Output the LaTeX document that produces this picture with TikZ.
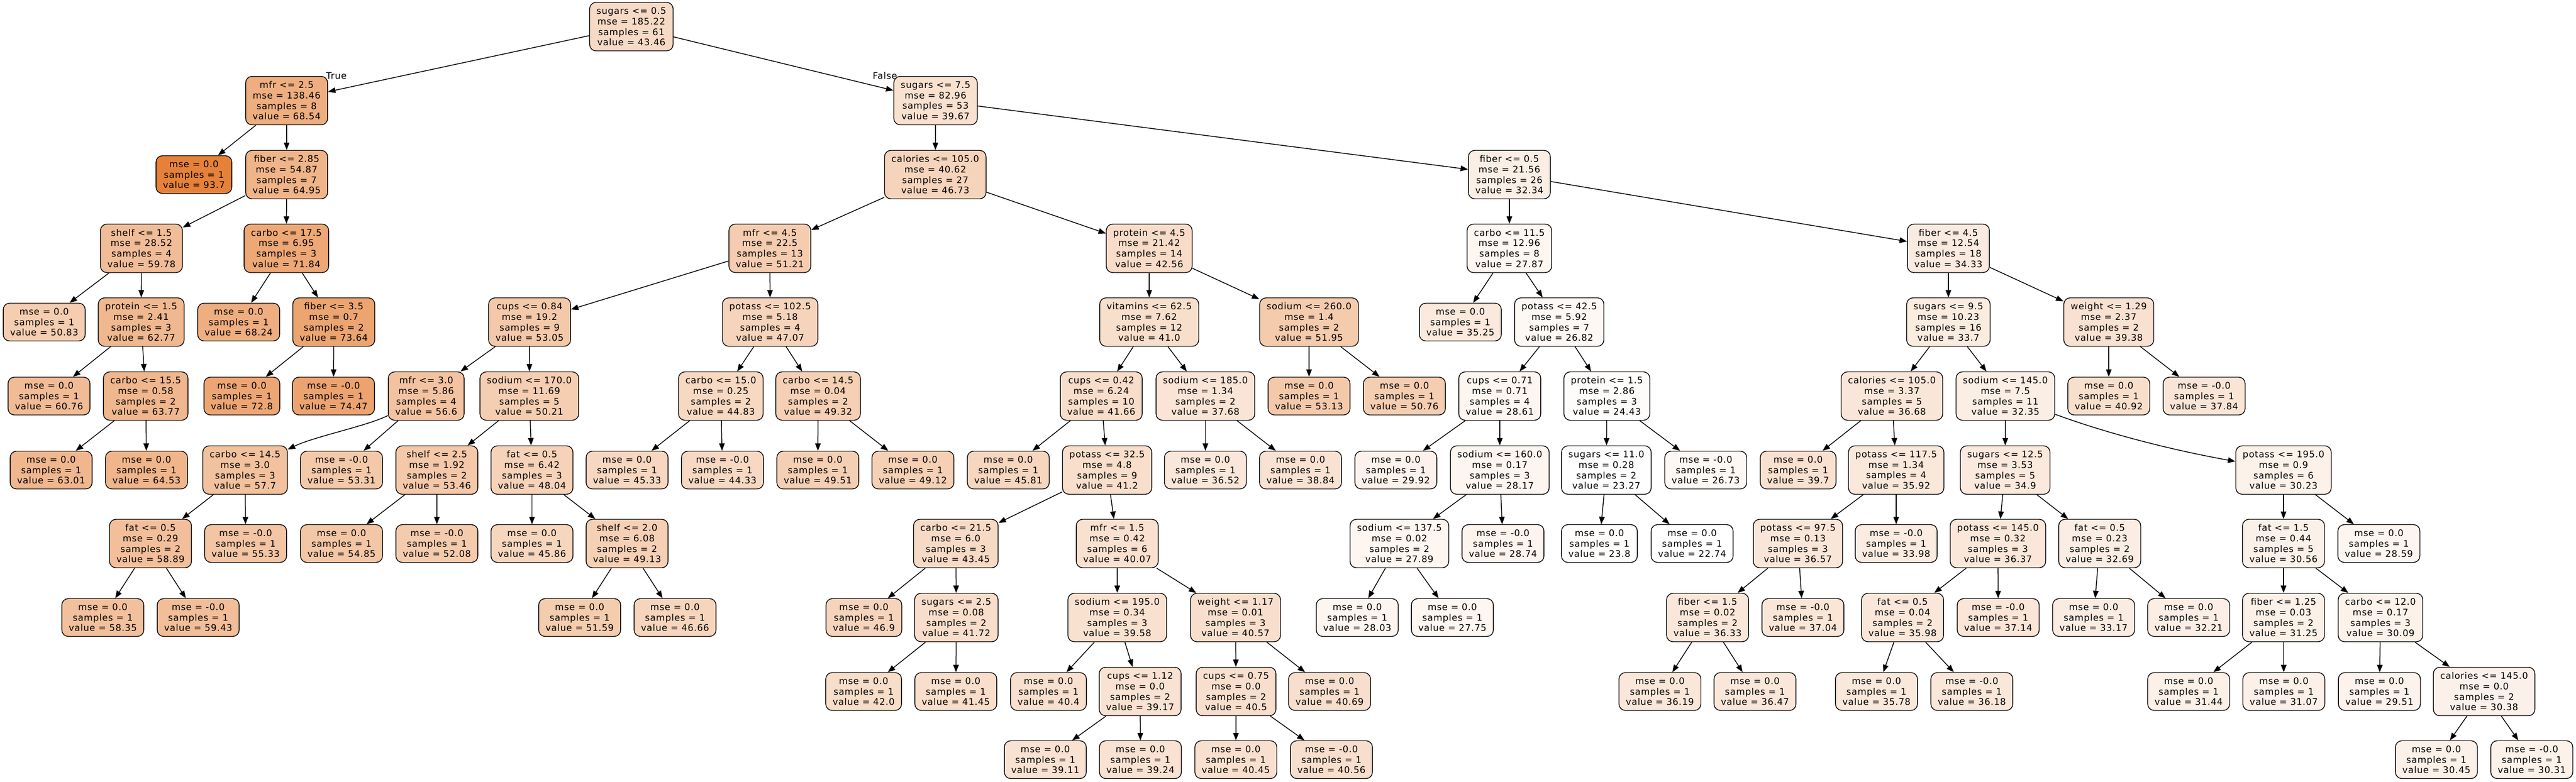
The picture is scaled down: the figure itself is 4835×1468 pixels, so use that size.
\documentclass[tikz,border=0pt]{standalone}
\usepackage{fontspec}
\setmainfont{DejaVu Sans}[LetterSpace=4.5]
\usetikzlibrary{arrows.meta}
\definecolor{tc}{RGB}{229,129,57}
\begin{document}
\begin{tikzpicture}[x=1pt,y=-1pt,
  box/.style={rectangle, draw=black, line width=1.4pt, rounded corners=12pt, align=center, inner xsep=13pt, inner ysep=2pt, font=\fontsize{17}{19.7}\selectfont},
  split/.style={box, minimum height=91pt},
  leaf/.style={box, minimum height=71pt},
  val/.style={/utils/exec={\pgfmathsetmacro\pct{(#1-22.74)*100/70.96}}, fill/.expanded={tc!\pct!white}},
  edge/.style={line width=1.5pt, -{Triangle[length=14pt,width=10.5pt]}},
  lbl/.style={font=\fontsize{17}{19.7}\selectfont, inner sep=0pt, anchor=base west}]
\useasboundingbox (0,0) rectangle (4835,1468);
% level 0
\node[split,val=43.46] (n0) at (1185,50) {sugars <= 0.5\\mse = 185.22\\samples = 61\\value = 43.46};
% level 1
\node[split,val=68.54] (n1) at (538,189) {mfr <= 2.5\\mse = 138.46\\samples = 8\\value = 68.54};
\node[split,val=39.67] (n16) at (1756,189) {sugars <= 7.5\\mse = 82.96\\samples = 53\\value = 39.67};
% level 2
\node[leaf,val=93.7] (n2) at (364,328) {mse = 0.0\\samples = 1\\value = 93.7};
\node[split,val=64.95] (n3) at (538,328) {fiber <= 2.85\\mse = 54.87\\samples = 7\\value = 64.95};
\node[split,val=46.73] (n17) at (1755.5,328) {calories <= 105.0\\mse = 40.62\\samples = 27\\value = 46.73};
\node[split,val=32.34] (n70) at (2833,328) {fiber <= 0.5\\mse = 21.56\\samples = 26\\value = 32.34};
% level 3
\node[split,val=59.78] (n4) at (265.5,466.5) {shelf <= 1.5\\mse = 28.52\\samples = 4\\value = 59.78};
\node[split,val=71.84] (n11) at (537.5,466.5) {carbo <= 17.5\\mse = 6.95\\samples = 3\\value = 71.84};
\node[split,val=51.21] (n18) at (1445,466.5) {mfr <= 4.5\\mse = 22.5\\samples = 13\\value = 51.21};
\node[split,val=42.56] (n43) at (2157,466.5) {protein <= 4.5\\mse = 21.42\\samples = 14\\value = 42.56};
\node[split,val=27.87] (n71) at (2833,466.5) {carbo <= 11.5\\mse = 12.96\\samples = 8\\value = 27.87};
\node[split,val=34.33] (n86) at (3657,466.5) {fiber <= 4.5\\mse = 12.54\\samples = 18\\value = 34.33};
% level 4
\node[leaf,val=50.83] (n5) at (83,605) {mse = 0.0\\samples = 1\\value = 50.83};
\node[split,val=62.77] (n6) at (265,605) {protein <= 1.5\\mse = 2.41\\samples = 3\\value = 62.77};
\node[leaf,val=68.24] (n12) at (448,605) {mse = 0.0\\samples = 1\\value = 68.24};
\node[split,val=73.64] (n13) at (626.5,605) {fiber <= 3.5\\mse = 0.7\\samples = 2\\value = 73.64};
\node[split,val=53.05] (n19) at (994,605) {cups <= 0.84\\mse = 19.2\\samples = 9\\value = 53.05};
\node[split,val=47.07] (n36) at (1445.5,605) {potass <= 102.5\\mse = 5.18\\samples = 4\\value = 47.07};
\node[split,val=41.0] (n44) at (2157,605) {vitamins <= 62.5\\mse = 7.62\\samples = 12\\value = 41.0};
\node[split,val=51.95] (n67) at (2457,605) {sodium <= 260.0\\mse = 1.4\\samples = 2\\value = 51.95};
\node[leaf,val=35.25] (n72) at (2741,605) {mse = 0.0\\samples = 1\\value = 35.25};
\node[split,val=26.82] (n73) at (2926.6,605) {potass <= 42.5\\mse = 5.92\\samples = 7\\value = 26.82};
\node[split,val=33.7] (n87) at (3657,605) {sugars <= 9.5\\mse = 10.23\\samples = 16\\value = 33.7};
\node[split,val=39.38] (n118) at (3958,605) {weight <= 1.29\\mse = 2.37\\samples = 2\\value = 39.38};
% level 5
\node[leaf,val=60.76] (n7) at (92,744) {mse = 0.0\\samples = 1\\value = 60.76};
\node[split,val=63.77] (n8) at (273.5,744) {carbo <= 15.5\\mse = 0.58\\samples = 2\\value = 63.77};
\node[leaf,val=72.8] (n14) at (454,744) {mse = 0.0\\samples = 1\\value = 72.8};
\node[leaf,val=74.47] (n15) at (626,744) {mse = -0.0\\samples = 1\\value = 74.47};
\node[split,val=56.6] (n20) at (800,744) {mfr <= 3.0\\mse = 5.86\\samples = 4\\value = 56.6};
\node[split,val=50.21] (n27) at (993.5,744) {sodium <= 170.0\\mse = 11.69\\samples = 5\\value = 50.21};
\node[split,val=44.83] (n37) at (1353,744) {carbo <= 15.0\\mse = 0.25\\samples = 2\\value = 44.83};
\node[split,val=49.32] (n40) at (1535.5,744) {carbo <= 14.5\\mse = 0.04\\samples = 2\\value = 49.32};
\node[split,val=41.66] (n45) at (2067,744) {cups <= 0.42\\mse = 6.24\\samples = 10\\value = 41.66};
\node[split,val=37.68] (n64) at (2262.5,744) {sodium <= 185.0\\mse = 1.34\\samples = 2\\value = 37.68};
\node[leaf,val=53.13] (n68) at (2457,744) {mse = 0.0\\samples = 1\\value = 53.13};
\node[leaf,val=50.76] (n69) at (2636,744) {mse = 0.0\\samples = 1\\value = 50.76};
\node[split,val=28.61] (n74) at (2815,744) {cups <= 0.71\\mse = 0.71\\samples = 4\\value = 28.61};
\node[split,val=24.43] (n81) at (3016,744) {protein <= 1.5\\mse = 2.86\\samples = 3\\value = 24.43};
\node[split,val=36.68] (n88) at (3551,744) {calories <= 105.0\\mse = 3.37\\samples = 5\\value = 36.68};
\node[split,val=32.35] (n97) at (3764,744) {sodium <= 145.0\\mse = 7.5\\samples = 11\\value = 32.35};
\node[leaf,val=40.92] (n119) at (3958,744) {mse = 0.0\\samples = 1\\value = 40.92};
\node[leaf,val=37.84] (n120) at (4137,744) {mse = -0.0\\samples = 1\\value = 37.84};
% level 6
\node[leaf,val=63.01] (n9) at (96,883) {mse = 0.0\\samples = 1\\value = 63.01};
\node[leaf,val=64.53] (n10) at (275,883) {mse = 0.0\\samples = 1\\value = 64.53};
\node[split,val=57.7] (n21) at (460,883) {carbo <= 14.5\\mse = 3.0\\samples = 3\\value = 57.7};
\node[leaf,val=53.31] (n26) at (641,883) {mse = -0.0\\samples = 1\\value = 53.31};
\node[split,val=53.46] (n28) at (820,883) {shelf <= 2.5\\mse = 1.92\\samples = 2\\value = 53.46};
\node[split,val=48.04] (n31) at (998.5,883) {fat <= 0.5\\mse = 6.42\\samples = 3\\value = 48.04};
\node[leaf,val=45.33] (n38) at (1177,883) {mse = 0.0\\samples = 1\\value = 45.33};
\node[leaf,val=44.33] (n39) at (1356,883) {mse = -0.0\\samples = 1\\value = 44.33};
\node[leaf,val=49.51] (n41) at (1535,883) {mse = 0.0\\samples = 1\\value = 49.51};
\node[leaf,val=49.12] (n42) at (1713.5,883) {mse = 0.0\\samples = 1\\value = 49.12};
\node[leaf,val=45.81] (n46) at (1892.5,883) {mse = 0.0\\samples = 1\\value = 45.81};
\node[split,val=41.2] (n47) at (2078,883) {potass <= 32.5\\mse = 4.8\\samples = 9\\value = 41.2};
\node[leaf,val=36.52] (n65) at (2262.5,883) {mse = 0.0\\samples = 1\\value = 36.52};
\node[leaf,val=38.84] (n66) at (2441,883) {mse = 0.0\\samples = 1\\value = 38.84};
\node[leaf,val=29.92] (n75) at (2620,883) {mse = 0.0\\samples = 1\\value = 29.92};
\node[split,val=28.17] (n76) at (2815,883) {sodium <= 160.0\\mse = 0.17\\samples = 3\\value = 28.17};
\node[split,val=23.27] (n82) at (3015,883) {sugars <= 11.0\\mse = 0.28\\samples = 2\\value = 23.27};
\node[leaf,val=26.73] (n85) at (3201.6,883) {mse = -0.0\\samples = 1\\value = 26.73};
\node[leaf,val=39.7] (n89) at (3375,883) {mse = 0.0\\samples = 1\\value = 39.7};
\node[split,val=35.92] (n90) at (3559,883) {potass <= 117.5\\mse = 1.34\\samples = 4\\value = 35.92};
\node[split,val=34.9] (n98) at (3763.6,883) {sugars <= 12.5\\mse = 3.53\\samples = 5\\value = 34.9};
\node[split,val=30.23] (n107) at (4286,883) {potass <= 195.0\\mse = 0.9\\samples = 6\\value = 30.23};
% level 7
\node[split,val=58.89] (n22) at (282.5,1021) {fat <= 0.5\\mse = 0.29\\samples = 2\\value = 58.89};
\node[leaf,val=55.33] (n25) at (461,1021) {mse = -0.0\\samples = 1\\value = 55.33};
\node[leaf,val=54.85] (n29) at (641,1021) {mse = 0.0\\samples = 1\\value = 54.85};
\node[leaf,val=52.08] (n30) at (820,1021) {mse = -0.0\\samples = 1\\value = 52.08};
\node[leaf,val=45.86] (n32) at (998.5,1021) {mse = 0.0\\samples = 1\\value = 45.86};
\node[split,val=49.13] (n33) at (1177,1021) {shelf <= 2.0\\mse = 6.08\\samples = 2\\value = 49.13};
\node[split,val=43.45] (n48) at (1794,1021) {carbo <= 21.5\\mse = 6.0\\samples = 3\\value = 43.45};
\node[split,val=40.07] (n53) at (2097,1021) {mfr <= 1.5\\mse = 0.42\\samples = 6\\value = 40.07};
\node[split,val=27.89] (n77) at (2626.6,1021) {sodium <= 137.5\\mse = 0.02\\samples = 2\\value = 27.89};
\node[leaf,val=28.74] (n80) at (2821,1021) {mse = -0.0\\samples = 1\\value = 28.74};
\node[leaf,val=23.8] (n83) at (3002,1021) {mse = 0.0\\samples = 1\\value = 23.8};
\node[leaf,val=22.74] (n84) at (3176,1021) {mse = 0.0\\samples = 1\\value = 22.74};
\node[split,val=36.57] (n91) at (3374.6,1021) {potass <= 97.5\\mse = 0.13\\samples = 3\\value = 36.57};
\node[leaf,val=33.98] (n96) at (3559,1021) {mse = -0.0\\samples = 1\\value = 33.98};
\node[split,val=36.37] (n99) at (3750,1021) {potass <= 145.0\\mse = 0.32\\samples = 3\\value = 36.37};
\node[split,val=32.69] (n104) at (3941,1021) {fat <= 0.5\\mse = 0.23\\samples = 2\\value = 32.69};
\node[split,val=30.56] (n108) at (4286,1021) {fat <= 1.5\\mse = 0.44\\samples = 5\\value = 30.56};
\node[leaf,val=28.59] (n117) at (4465,1021) {mse = 0.0\\samples = 1\\value = 28.59};
% level 8
\node[leaf,val=58.35] (n23) at (193,1160) {mse = 0.0\\samples = 1\\value = 58.35};
\node[leaf,val=59.43] (n24) at (372,1160) {mse = -0.0\\samples = 1\\value = 59.43};
\node[leaf,val=51.59] (n34) at (1088,1160) {mse = 0.0\\samples = 1\\value = 51.59};
\node[leaf,val=46.66] (n35) at (1267,1160) {mse = 0.0\\samples = 1\\value = 46.66};
\node[leaf,val=46.9] (n49) at (1621.5,1160) {mse = 0.0\\samples = 1\\value = 46.9};
\node[split,val=41.72] (n50) at (1795,1160) {sugars <= 2.5\\mse = 0.08\\samples = 2\\value = 41.72};
\node[split,val=39.58] (n54) at (2097,1160) {sodium <= 195.0\\mse = 0.34\\samples = 3\\value = 39.58};
\node[split,val=40.57] (n59) at (2319,1160) {weight <= 1.17\\mse = 0.01\\samples = 3\\value = 40.57};
\node[leaf,val=28.03] (n78) at (2547.5,1160) {mse = 0.0\\samples = 1\\value = 28.03};
\node[leaf,val=27.75] (n79) at (2726,1160) {mse = 0.0\\samples = 1\\value = 27.75};
\node[split,val=36.33] (n92) at (3205,1160) {fiber <= 1.5\\mse = 0.02\\samples = 2\\value = 36.33};
\node[leaf,val=37.04] (n95) at (3384,1160) {mse = -0.0\\samples = 1\\value = 37.04};
\node[split,val=35.98] (n100) at (3571,1160) {fat <= 0.5\\mse = 0.04\\samples = 2\\value = 35.98};
\node[leaf,val=37.14] (n103) at (3750.5,1160) {mse = -0.0\\samples = 1\\value = 37.14};
\node[leaf,val=33.17] (n105) at (3929.6,1160) {mse = 0.0\\samples = 1\\value = 33.17};
\node[leaf,val=32.21] (n106) at (4108,1160) {mse = 0.0\\samples = 1\\value = 32.21};
\node[split,val=31.25] (n109) at (4286,1160) {fiber <= 1.25\\mse = 0.03\\samples = 2\\value = 31.25};
\node[split,val=30.09] (n112) at (4468,1160) {carbo <= 12.0\\mse = 0.17\\samples = 3\\value = 30.09};
% level 9
\node[leaf,val=42.0] (n51) at (1621,1299) {mse = 0.0\\samples = 1\\value = 42.0};
\node[leaf,val=41.45] (n52) at (1794,1299) {mse = 0.0\\samples = 1\\value = 41.45};
\node[leaf,val=40.4] (n55) at (1968,1299) {mse = 0.0\\samples = 1\\value = 40.4};
\node[split,val=39.17] (n56) at (2140,1299) {cups <= 1.12\\mse = 0.0\\samples = 2\\value = 39.17};
\node[split,val=40.5] (n60) at (2320,1299) {cups <= 0.75\\mse = 0.0\\samples = 2\\value = 40.5};
\node[leaf,val=40.69] (n63) at (2495.5,1299) {mse = 0.0\\samples = 1\\value = 40.69};
\node[leaf,val=36.19] (n93) at (3115.6,1299) {mse = 0.0\\samples = 1\\value = 36.19};
\node[leaf,val=36.47] (n94) at (3294,1299) {mse = 0.0\\samples = 1\\value = 36.47};
\node[leaf,val=35.78] (n101) at (3522,1299) {mse = 0.0\\samples = 1\\value = 35.78};
\node[leaf,val=36.18] (n102) at (3701,1299) {mse = -0.0\\samples = 1\\value = 36.18};
\node[leaf,val=31.44] (n110) at (4108,1299) {mse = 0.0\\samples = 1\\value = 31.44};
\node[leaf,val=31.07] (n111) at (4286.6,1299) {mse = 0.0\\samples = 1\\value = 31.07};
\node[leaf,val=29.51] (n113) at (4466,1299) {mse = 0.0\\samples = 1\\value = 29.51};
\node[split,val=30.38] (n114) at (4662.5,1299) {calories <= 145.0\\mse = 0.0\\samples = 2\\value = 30.38};
% level 10
\node[leaf,val=39.11] (n57) at (1962,1427) {mse = 0.0\\samples = 1\\value = 39.11};
\node[leaf,val=39.24] (n58) at (2140.5,1427) {mse = 0.0\\samples = 1\\value = 39.24};
\node[leaf,val=40.45] (n61) at (2319.6,1427) {mse = 0.0\\samples = 1\\value = 40.45};
\node[leaf,val=40.56] (n62) at (2499,1427) {mse = -0.0\\samples = 1\\value = 40.56};
\node[leaf,val=30.45] (n115) at (4573,1427) {mse = 0.0\\samples = 1\\value = 30.45};
\node[leaf,val=30.31] (n116) at (4752,1427) {mse = -0.0\\samples = 1\\value = 30.31};
% edge labels
\node[lbl] (tlab) at (612,148) {True};
\node[lbl] (flab) at (1638,148) {False};
% edges
\foreach \a/\b in {n0/n1, n0/n16, n1/n2, n1/n3, n3/n4, n3/n11, n4/n5, n4/n6, n6/n7, n6/n8,
  n8/n9, n8/n10, n11/n12, n11/n13, n13/n14, n13/n15, n16/n17, n16/n70, n17/n18, n17/n43,
  n18/n19, n18/n36, n19/n20, n19/n27, n20/n26, n21/n22, n21/n25, n22/n23, n22/n24,
  n27/n28, n27/n31, n28/n29, n28/n30, n31/n32, n31/n33, n33/n34, n33/n35, n36/n37, n36/n40,
  n37/n38, n37/n39, n40/n41, n40/n42, n43/n44, n43/n67, n44/n45, n44/n64, n45/n46, n45/n47,
  n47/n48, n47/n53, n48/n49, n48/n50, n50/n51, n50/n52, n53/n54, n53/n59, n54/n55, n54/n56,
  n56/n57, n56/n58, n59/n60, n59/n63, n60/n61, n60/n62, n64/n65, n64/n66, n67/n68, n67/n69,
  n70/n71, n70/n86, n71/n72, n71/n73, n73/n74, n73/n81, n74/n75, n74/n76, n76/n77, n76/n80,
  n77/n78, n77/n79, n81/n82, n81/n85, n82/n83, n82/n84, n86/n87, n86/n118, n87/n88, n87/n97,
  n88/n89, n88/n90, n90/n91, n90/n96, n91/n92, n91/n95, n92/n93, n92/n94, n97/n98,
  n98/n99, n98/n104, n99/n100, n99/n103, n100/n101, n100/n102, n104/n105, n104/n106,
  n107/n108, n107/n117, n108/n109, n108/n112, n109/n110, n109/n111, n112/n113, n112/n114,
  n114/n115, n114/n116, n118/n119, n118/n120}
  \draw[edge] (\a) -- (\b);
% curved edges
\draw[edge] (n20) .. controls (690,800) and (590,820) .. (n21);
\draw[edge] (n97) .. controls (3960,816) and (4080,846) .. (n107);
\end{tikzpicture}
\end{document}
